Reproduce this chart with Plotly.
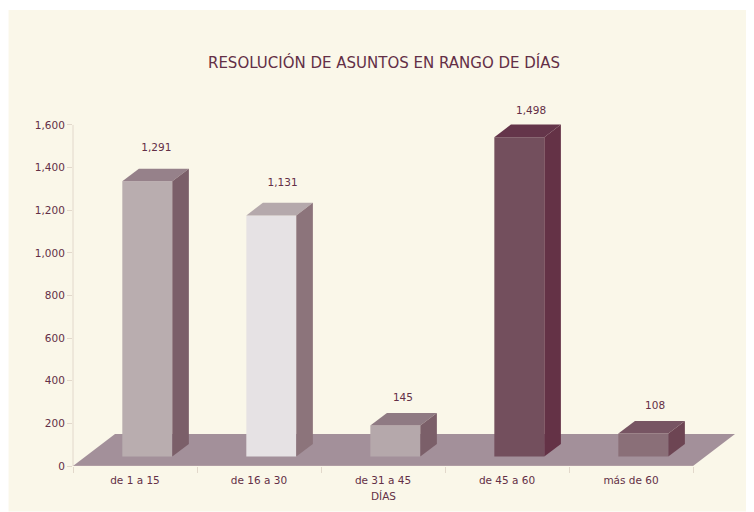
import plotly.graph_objects as go

categories = ["de 1 a 15", "de 16 a 30", "de 31 a 45", "de 45 a 60", "más de 60"]
values = [1291, 1131, 145, 1498, 108]
value_labels = ["1,291", "1,131", "145", "1,498", "108"]
y_ticks = [0, 200, 400, 600, 800, 1000, 1200, 1400, 1600]
y_tick_labels = ["0", "200", "400", "600", "800", "1,000", "1,200", "1,400", "1,600"]

front_colors = ["#b9adaf", "#e6e2e4", "#b5a8ab", "#734f5d", "#8a6f78"]
top_colors = ["#96818a", "#b5a9ac", "#8f7a83", "#64354a", "#775563"]
side_colors = ["#7b5f69", "#8c747b", "#7b5f69", "#643246", "#6d4553"]

# label placement relative to each bar's back top corner (pixels)
label_gap = [20, 20, 15, 13.5, 15]
label_nudge = [0.7, 3, -0.7, 3.5, 3.5]

TEXT = "#632f46"
AXIS = "#e2d8cb"
PANEL = "#faf7e9"
FONT = "DejaVu Sans"

# the page has an 8px body margin, so figure pixels = screen pixels - 8
OFF = 8
W, H = 754 - OFF, 512 - OFF
L, TOP_TICK, B = 72.5 - OFF, 125.0 - OFF, 466.5 - OFF
T = 90.0 - OFF  # plot area reaches above the top tick for the tallest label
AX_END = 693.0 - OFF   # last category boundary
n = len(categories)
x_unit = (AX_END - L) / n
y_unit = (B - TOP_TICK) / 1600

# 3D projection constants expressed in axis units
bar_shift = 12.3 / x_unit
bar_width = 50.0 / x_unit
bar_base = 9.5 / y_unit
depth_x = 16.6 / x_unit
depth_y = 12.6 / y_unit
floor_x = 42.0 / x_unit
floor_y = 32.0 / y_unit

R = AX_END + 42.0  # plot area reaches the far corner of the floor
y_top = (B - T) / y_unit

fig = go.Figure()


def poly(xs, ys, color, axes):
    fig.add_trace(go.Scatter(
        x=xs + xs[:1], y=ys + ys[:1], mode="lines", fill="toself",
        fillcolor=color, line=dict(width=0, color=color),
        hoverinfo="skip", showlegend=False, cliponaxis=False,
        xaxis=axes[0], yaxis=axes[1]))


poly([0, n, n + floor_x, floor_x], [0, 0, floor_y, floor_y], "#a3909a", ("x", "y"))
fig.add_trace(go.Scatter(x=[0, n], y=[0, 0], mode="lines", line=dict(color="#bcaaae", width=1),
                         hoverinfo="skip", showlegend=False, cliponaxis=False))

centers = [i + 0.5 + bar_shift for i in range(n)]
fig.add_trace(go.Bar(
    x=centers, y=values, base=[bar_base] * n, width=bar_width,
    marker=dict(color=front_colors, line=dict(width=0)),
    hoverinfo="skip", showlegend=False, cliponaxis=False,
    xaxis="x2", yaxis="y2"))

for c, v, ct, cs in zip(centers, values, top_colors, side_colors):
    x0, x1 = c - bar_width / 2, c + bar_width / 2
    y0, y1 = bar_base, bar_base + v
    poly([x0, x1, x1 + depth_x, x0 + depth_x], [y1, y1, y1 + depth_y, y1 + depth_y], ct, ("x2", "y2"))
    poly([x1, x1 + depth_x, x1 + depth_x, x1], [y0, y0 + depth_y, y1 + depth_y, y1], cs, ("x2", "y2"))

fig.add_trace(go.Scatter(
    x=[c + depth_x / 2 + d / x_unit for c, d in zip(centers, label_nudge)],
    y=[bar_base + v + depth_y + g / y_unit for v, g in zip(values, label_gap)],
    mode="text", text=value_labels, textposition="middle center",
    textfont=dict(family=FONT, size=10.5, color=TEXT),
    hoverinfo="skip", showlegend=False, cliponaxis=False,
    xaxis="x2", yaxis="y2"))

x_range = [0, n + floor_x]
fig.update_layout(
    width=W, height=H, autosize=False,
    paper_bgcolor="white", plot_bgcolor=PANEL,
    margin=dict(l=L, r=W - R, t=T, b=H - B, pad=0, autoexpand=False),
    font=dict(family=FONT, size=10.5, color=TEXT),
    barmode="overlay",
    title=dict(text="RESOLUCIÓN DE ASUNTOS EN RANGO DE DÍAS",
               font=dict(family=FONT, size=15, color=TEXT),
               x=(384 - OFF) / W, xanchor="center", xref="container",
               y=1 - (63 - OFF) / H, yanchor="middle", yref="container"),
    xaxis=dict(
        range=x_range, showgrid=False, zeroline=False, showline=False,
        tickmode="array", tickvals=[i + 0.5 for i in range(n)], ticktext=categories,
        ticks="", tickfont=dict(family=FONT, size=10.5, color=TEXT), ticklabelstandoff=6,
        minor=dict(tickmode="array", tickvals=list(range(n + 1)), ticks="outside",
                   ticklen=6, tickcolor=AXIS, tickwidth=1, showgrid=False),
    ),
    yaxis=dict(
        range=[0, y_top], showgrid=False, zeroline=False, showline=False,
        tickmode="array", tickvals=y_ticks, ticktext=y_tick_labels,
        ticks="outside", ticklen=5, tickcolor=AXIS, tickwidth=1,
        tickfont=dict(family=FONT, size=10.5, color=TEXT),
    ),
    xaxis2=dict(overlaying="x", matches="x", visible=False, anchor="y2"),
    yaxis2=dict(overlaying="y", matches="y", visible=False, anchor="x2"),
    annotations=[dict(
        text="DÍAS", xref="x", yref="paper", x=n / 2,
        y=-(497 - 466.5) / (B - T), xanchor="center", yanchor="middle",
        showarrow=False, font=dict(family=FONT, size=10.5, color=TEXT))],
    shapes=[
        dict(type="rect", layer="below", xref="paper", yref="paper",
             x0=(0 - L) / (R - L), x1=(W - L) / (R - L),
             y0=(B - H) / (B - T), y1=(B - 2) / (B - T),
             fillcolor=PANEL, line=dict(width=0)),
        dict(type="line", layer="above", xref="paper", yref="y",
             x0=0, x1=0, y0=0, y1=1600, line=dict(color=AXIS, width=1)),
    ],
)

fig.write_html("out.html")
